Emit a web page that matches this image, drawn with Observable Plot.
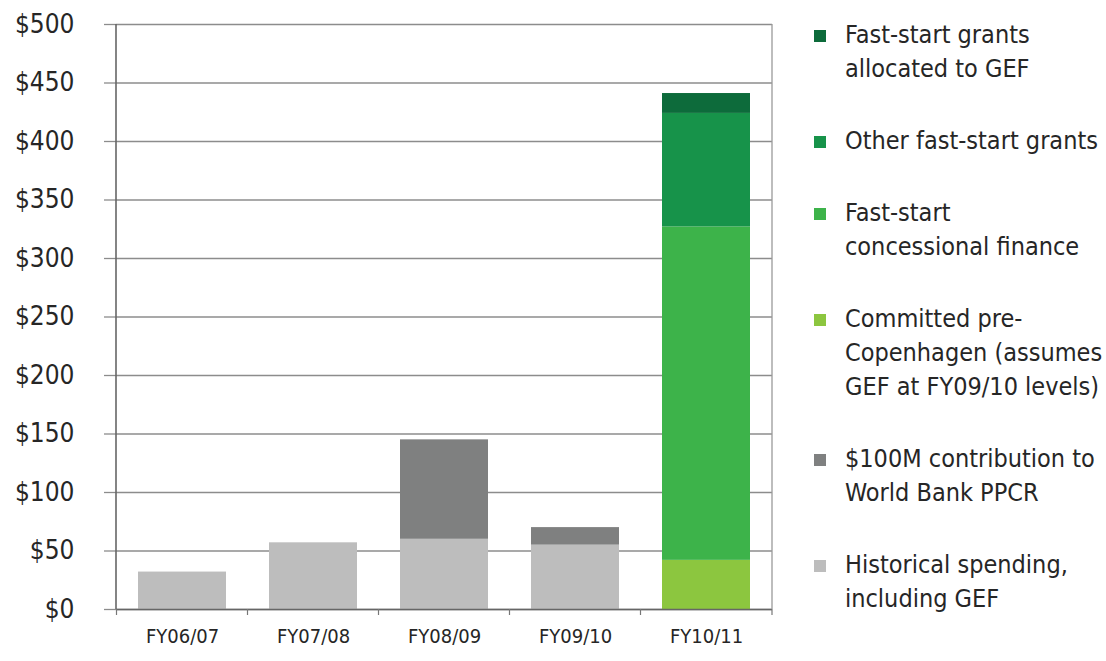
<!DOCTYPE html>
<html>
<head>
<meta charset="utf-8">
<script src="https://cdn.jsdelivr.net/npm/d3@7"></script>
<script src="https://cdn.jsdelivr.net/npm/@observablehq/plot@0.6"></script>
<style>
  html, body { margin: 0; padding: 0; background: #fff; overflow: hidden; }
  #wrap { position: relative; width: 1106px; height: 661px; }
  #chart { position: absolute; left: 0; top: 0; }
  #legend {
    position: absolute; left: 814px; top: 18px;
    font-family: "DejaVu Sans Condensed", "Liberation Sans Narrow", "DejaVu Sans", sans-serif;
    font-stretch: condensed;
    font-size: 25px; line-height: 34px; color: #262626;
  }
  .item { position: relative; padding-left: 31px; margin-bottom: 38px; white-space: nowrap; }
  .sw { position: absolute; left: 0; top: 12px; width: 12px; height: 12px; }
</style>
</head>
<body>
<div id="wrap">
  <div id="chart"></div>
  <div id="legend"></div>
</div>
<script>
// ---- data ----
const categories = ["FY06/07", "FY07/08", "FY08/09", "FY09/10", "FY10/11"];

const seriesNames = [
  "Historical spending, including GEF",
  "$100M contribution to World Bank PPCR",
  "Committed pre-Copenhagen (assumes GEF at FY09/10 levels)",
  "Fast-start concessional finance",
  "Other fast-start grants",
  "Fast-start grants allocated to GEF"
];
// legend lines (top to bottom in the legend)
const legendLines = [
  ["Fast-start grants", "allocated to GEF"],
  ["Other fast-start grants"],
  ["Fast-start", "concessional finance"],
  ["Committed pre-", "Copenhagen (assumes", "GEF at FY09/10 levels)"],
  ["$100M contribution to", "World Bank PPCR"],
  ["Historical spending,", "including GEF"]
];
const seriesColors = ["#bdbdbd", "#7f8080", "#8cc63f", "#3db34a", "#17934a", "#0d6b3b"];

const historical   = [32, 57, 60, 55, 0];
const ppcr         = [0, 0, 85, 15, 0];
const committed    = [0, 0, 0, 0, 42];
const concessional = [0, 0, 0, 0, 285];
const otherGrants  = [0, 0, 0, 0, 97];
const gefGrants    = [0, 0, 0, 0, 17];

const yTicks = [0, 50, 100, 150, 200, 250, 300, 350, 400, 450, 500];

const seriesValues = [historical, ppcr, committed, concessional, otherGrants, gefGrants];
const data = [];
seriesValues.forEach((vals, si) => categories.forEach((c, ci) => {
  data.push({category: c, series: seriesNames[si], value: vals[ci]});
}));

const FONT = '"DejaVu Sans Condensed", "Liberation Sans Narrow", "DejaVu Sans", sans-serif';

const chart = Plot.plot({
  width: 790,
  height: 661,
  marginTop: 24,
  marginBottom: 52,
  marginLeft: 116,
  marginRight: 18,
  style: {fontFamily: FONT, fontStretch: "condensed", color: "#262626", background: "#fff"},
  x: {domain: categories, paddingInner: 0.33, paddingOuter: 0.165, label: null},
  y: {domain: [0, 500], label: null},
  color: {domain: seriesNames, range: seriesColors},
  marks: [
    Plot.gridY(yTicks, {stroke: "#8c8c8c", strokeOpacity: 1, strokeWidth: 1.3}),
    Plot.axisY(yTicks, {tickSize: 12, tickPadding: 30, tickFormat: d => "$" + d,
      fontSize: 26, stroke: "#8c8c8c", strokeWidth: 1.3, fill: "#262626"}),
    Plot.rectY(data, Plot.stackY({x: "category", y: "value", fill: "series", order: seriesNames})),
    Plot.axisX({tickSize: 0, tickPadding: 19, fontSize: 20, fill: "#262626"}),
    Plot.ruleY([0], {stroke: "#666", strokeWidth: 1.6})
  ]
});

// frame lines and band-edge ticks derived from the plot's scales
const xs = chart.scale("x");
const ys = chart.scale("y");
const svg = d3.select(chart);
const [r0, r1] = xs.range;
const yTop = ys.apply(500), yBot = ys.apply(0);
const g = svg.append("g");
g.append("line").attr("x1", r0).attr("x2", r0).attr("y1", yTop).attr("y2", yBot)
  .attr("stroke", "#666").attr("stroke-width", 1.6);
g.append("line").attr("x1", r1).attr("x2", r1).attr("y1", yTop).attr("y2", yBot)
  .attr("stroke", "#9a9a9a").attr("stroke-width", 1.3);
const edges = categories.map(c => xs.apply(c) - (xs.step - xs.bandwidth) / 2);
edges.push(r1);
edges.forEach(x => {
  g.append("line").attr("x1", x).attr("x2", x).attr("y1", yBot).attr("y2", yBot + 6)
    .attr("stroke", "#777").attr("stroke-width", 1.2);
});

document.getElementById("chart").appendChild(chart);

// legend (top-to-bottom = top of stack first)
const legend = document.getElementById("legend");
legendLines.forEach((lines, i) => {
  const si = seriesNames.length - 1 - i;
  const item = document.createElement("div");
  item.className = "item";
  const sw = document.createElement("div");
  sw.className = "sw";
  sw.style.background = seriesColors[si];
  item.appendChild(sw);
  lines.forEach(t => {
    const d = document.createElement("div");
    d.textContent = t;
    item.appendChild(d);
  });
  legend.appendChild(item);
});
</script>
</body>
</html>
